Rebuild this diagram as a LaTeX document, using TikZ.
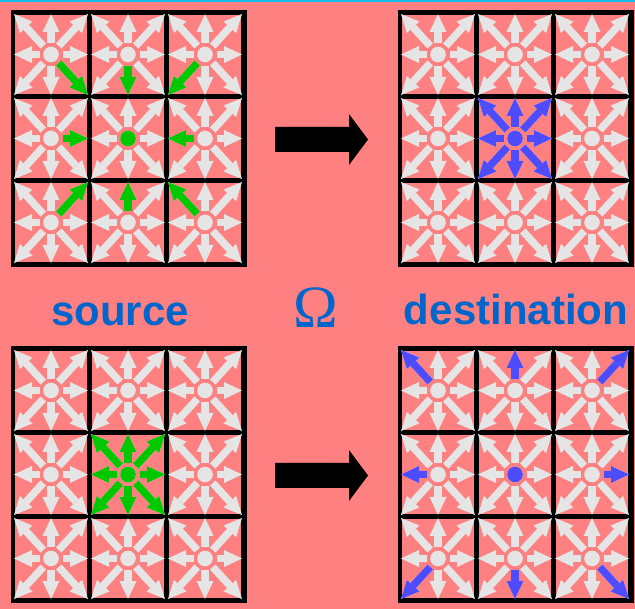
\documentclass[tikz,border=0pt]{standalone}
\usepackage{fontspec}
\setmainfont{Liberation Sans}
\newfontfamily\omegafont{Liberation Serif}
\usetikzlibrary{arrows.meta,calc}

\definecolor{bgred}{RGB}{255,128,128}
\definecolor{cellgray}{RGB}{229,229,229}
\definecolor{srcgreen}{RGB}{0,200,0}
\definecolor{dstblue}{RGB}{77,77,255}
\definecolor{lblblue}{RGB}{0,102,204}
\definecolor{topcyan}{RGB}{20,190,235}

\newcommand{\alldirs}{1/0,1/1,0/1,-1/1,-1/0,-1/-1,0/-1,1/-1}

% one velocity arrow of a cell: #1 style, #2 cell centre, #3 #4 direction
\newcommand{\cellarrow}[4]{%
  \coordinate (arrowtip) at ($(#2)+(#3*37,#4*40.5)$);
  \draw[#1] ($(#2)!11.5pt!(arrowtip)$) -- (arrowtip);}

% 3x3 block of lattice cells, centres named #1-ij
\newcommand{\latticepanel}[3]{%
  \begin{scope}[shift={(#2,#3)}]
  \fill (11,10) rectangle (247,267);
  \foreach \i in {0,1,2}
    \foreach \j in {0,1,2}
     {\fill[bgred] (15+77*\i,15+84*\j) rectangle ++(72,79);
      \coordinate (#1-\i\j) at (51+77*\i,54.5+84*\j);}
  \end{scope}
  \foreach \i in {0,1,2}
    \foreach \j in {0,1,2}
     {\fill[cellgray] (#1-\i\j) circle (7.8);
      \foreach \dx/\dy in \alldirs {\cellarrow{grayarrow}{#1-\i\j}{\dx}{\dy}}}}

\begin{document}
\begin{tikzpicture}[x=1pt,y=-1pt,
  grayarrow/.style={cellgray,line width=7.5pt,-{Triangle[length=18pt,width=17pt,line width=0pt]}},
  greenarrow/.style={grayarrow,srcgreen},
  bluearrow/.style={grayarrow,dstblue},
  lbl/.style={lblblue,font=\fontsize{42}{48}\selectfont\bfseries,inner sep=0pt,anchor=base}]

\useasboundingbox (0,0) rectangle (635,609);
\fill[bgred] (0,0) rectangle (635,609);
\fill[topcyan] (0,0) rectangle (635,2.5);

\latticepanel{A}{0}{0}
\latticepanel{B}{387}{0}
\latticepanel{C}{0}{336}
\latticepanel{D}{387}{336}

% streaming into the centre cell
\fill[srcgreen] (A-11) circle (7.8);
\foreach \dx/\dy in \alldirs
  {\pgfmathtruncatemacro\ci{1-\dx}\pgfmathtruncatemacro\cj{1-\dy}
   \cellarrow{greenarrow}{A-\ci\cj}{\dx}{\dy}}

\fill[dstblue] (B-11) circle (7.8);
\foreach \dx/\dy in \alldirs {\cellarrow{bluearrow}{B-11}{\dx}{\dy}}

% streaming out of the centre cell
\fill[srcgreen] (C-11) circle (7.8);
\foreach \dx/\dy in \alldirs {\cellarrow{greenarrow}{C-11}{\dx}{\dy}}

\fill[dstblue] (D-11) circle (7.8);
\foreach \dx/\dy in \alldirs
  {\pgfmathtruncatemacro\ci{1+\dx}\pgfmathtruncatemacro\cj{1+\dy}
   \cellarrow{bluearrow}{D-\ci\cj}{\dx}{\dy}}

\foreach \dy in {0,336}
  \fill (275,127+\dy) -- (349,127+\dy) -- (349,114+\dy) -- (368,139.5+\dy)
     -- (349,165+\dy) -- (349,152+\dy) -- (275,152+\dy) -- cycle;

\node[lbl] (src) at (120,326) {source};
\node[lbl] (dst) at (516,325) {destination};
\node[lblblue,inner sep=0pt,anchor=base,font=\omegafont\fontsize{60}{66}\selectfont] (omega) at (316,328) {Ω};

\end{tikzpicture}
\end{document}
